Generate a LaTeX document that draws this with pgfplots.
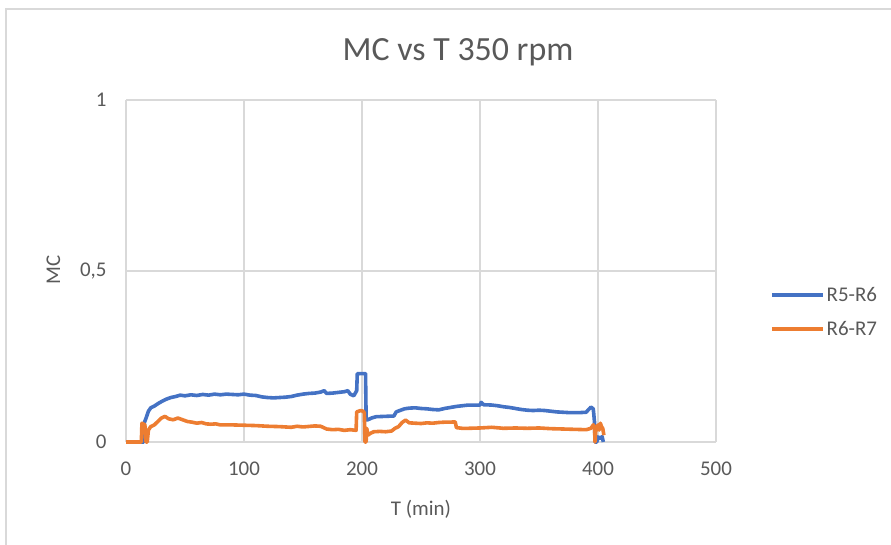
\documentclass[border=0pt]{standalone}
\usepackage{pgfplots}
\pgfplotsset{compat=1.18}
\usepackage{fontspec}
\setmainfont{Carlito}
\definecolor{xlblue}{RGB}{68,114,196}
\definecolor{xlorange}{RGB}{237,125,49}
\definecolor{xlgrid}{RGB}{217,217,217}
\definecolor{xltext}{RGB}{89,89,89}
\begin{document}
\begin{tikzpicture}
\path[use as bounding box] (0,0) rectangle (891bp,545bp);
\draw[xlgrid, line width=2bp] (6bp,0bp) -- (6bp,536bp) -- (891bp,536bp);
\begin{axis}[
  at={(126bp,103bp)}, anchor=south west,
  scale only axis, width=590bp, height=342bp,
  xmin=0, xmax=500, ymin=0, ymax=1,
  xtick={0,100,200,300,400,500},
  ytick={0,0.5,1}, yticklabels={0,{0,5},1},
  axis line style={draw=none},
  tick style={draw=none},
  grid=major, major grid style={xlgrid, line width=1.3bp},
  major tick length=0pt,
  /pgf/number format/assume math mode=true,
  ticklabel style={font=\fontsize{21}{25}\selectfont, text=xltext},
  xticklabel style={yshift=-16bp},
  yticklabel style={xshift=-16bp},
  clip=false,
  legend style={at={(1.0915,0.38)}, anchor=west, draw=none, fill=none,
    font=\fontsize{21}{25}\selectfont, text=xltext, row sep=14bp,
    inner sep=0pt, nodes={inner sep=2bp}},
  legend cell align=left,
  legend image code/.code={\draw[#1, line width=3.5bp] (0bp,0bp) -- (51bp,0bp);},
]
\addplot[xlblue, line width=3.6bp, line join=round] coordinates {
(0,0) (15,0) (15.5,0.056) (17,0.07) (19,0.09) (21,0.10) (24,0.105) (27,0.112)
(30,0.118) (34,0.125) (38,0.13) (42,0.133) (46,0.137) (50,0.135) (55,0.138)
(60,0.136) (65,0.139) (70,0.137) (75,0.14) (80,0.138) (85,0.14) (90,0.139)
(95,0.138) (100,0.14) (105,0.137) (110,0.136) (115,0.132) (120,0.13) (125,0.129)
(130,0.13) (135,0.131) (140,0.133) (145,0.137) (150,0.14) (155,0.142) (160,0.143)
(165,0.146) (168,0.15) (170,0.142) (175,0.143) (180,0.145) (185,0.147) (188,0.15)
(190,0.14) (193,0.135) (195.5,0.15) (196,0.2) (203,0.2) (203.5,0.065)
(205,0.065) (208,0.07) (212,0.074) (220,0.075) (227,0.076) (229,0.088) (232,0.092)
(236,0.097) (240,0.099) (245,0.1) (250,0.098) (255,0.097) (260,0.095) (265,0.094)
(270,0.098) (275,0.101) (280,0.104) (285,0.106) (290,0.108) (295,0.108) (300,0.108)
(301,0.116) (303,0.109) (310,0.108) (315,0.106) (320,0.103) (325,0.101) (330,0.098)
(335,0.095) (340,0.093) (345,0.092) (350,0.093) (355,0.092) (360,0.09) (365,0.088)
(370,0.087) (375,0.086) (380,0.086) (385,0.086) (390,0.087) (392,0.095) (394,0.102)
(396,0.097) (397,0.06) (397.5,0) (399,0) (400,0.015) (402,0.01) (403.5,0.016) (404.5,0)
};
\addlegendentry{R5-R6}
\addplot[xlorange, line width=3.6bp, line join=round] coordinates {
(0,0) (13,0) (13.5,0.055) (16,0.05) (17,0) (18,0) (19,0.035) (21,0.045) (24,0.05)
(27,0.06) (30,0.07) (33,0.075) (36,0.068) (40,0.065) (44,0.07) (48,0.065) (52,0.06)
(56,0.058) (60,0.055) (64,0.057) (68,0.053) (72,0.052) (76,0.053) (80,0.05) (90,0.05)
(100,0.049) (110,0.048) (120,0.046) (130,0.045) (140,0.043) (145,0.046) (150,0.044)
(160,0.047) (165,0.046) (170,0.038) (175,0.036) (180,0.037) (185,0.034) (190,0.036)
(195,0.034) (195.5,0.088) (199,0.092) (201,0.09) (202,0.085) (202.5,0) (203.5,0)
(204,0.04) (205,0.02) (207,0.025) (210,0.03) (215,0.031) (220,0.03) (225,0.032)
(228,0.04) (231,0.045) (234,0.057) (237,0.064) (240,0.056) (245,0.055) (250,0.054)
(255,0.056) (260,0.055) (265,0.057) (270,0.058) (275,0.058) (279,0.059) (280,0.042)
(285,0.04) (290,0.04) (300,0.041) (310,0.043) (320,0.04) (330,0.041) (340,0.04)
(350,0.041) (360,0.039) (370,0.038) (380,0.037) (390,0.036) (394,0.04) (396,0.05)
(397,0.045) (397.5,0) (398,0.03) (400,0.05) (401,0.035) (402,0.055) (403,0.045)
(404,0.04) (405,0.02)
};
\addlegendentry{R6-R7}
\end{axis}
\node[anchor=base, font=\fontsize{34}{40}\selectfont, text=xltext] at (458bp,484bp) {MC vs T 350 rpm};
\node[anchor=base, font=\fontsize{21}{25}\selectfont, text=xltext] at (421bp,30bp) {T (min)};
\node[anchor=base, rotate=90, font=\fontsize{21}{25}\selectfont, text=xltext] at (60bp,275bp) {MC};
\end{tikzpicture}
\end{document}
